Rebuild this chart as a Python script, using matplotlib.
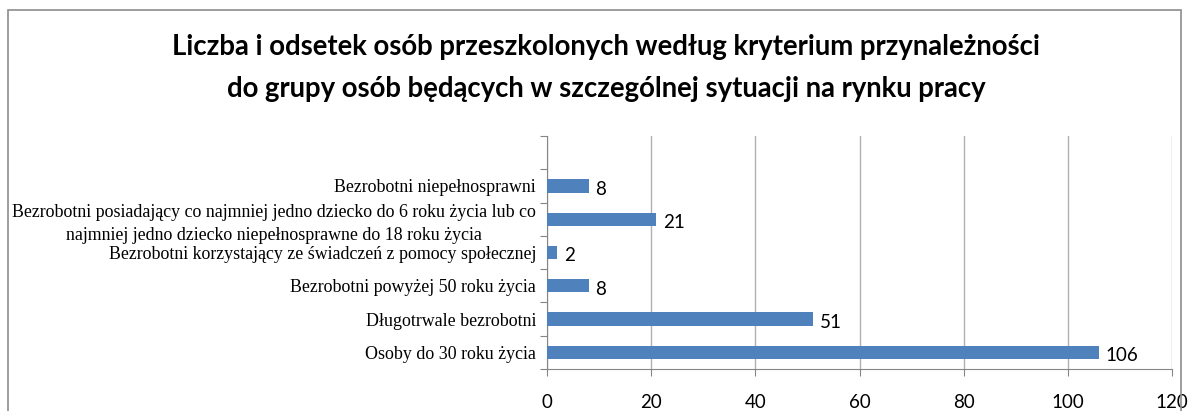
import numpy as np
import matplotlib
matplotlib.use("Agg")
import matplotlib.pyplot as plt
from matplotlib.patches import Rectangle

# data, bottom to top (top slot is empty in the source chart)
categories = [
    "Osoby do 30 roku życia",
    "Długotrwale bezrobotni",
    "Bezrobotni powyżej 50 roku życia",
    "Bezrobotni korzystający ze świadczeń z pomocy społecznej",
    "Bezrobotni posiadający co najmniej jedno dziecko do 6 roku życia lub co\n"
    "najmniej jedno dziecko niepełnosprawne do 18 roku życia",
    "Bezrobotni niepełnosprawni",
    "",
]
values = [106, 51, 8, 2, 21, 8]
x_ticks = [0, 20, 40, 60, 80, 100, 120]

title = ("Liczba i odsetek osób przeszkolonych według kryterium przynależności\n"
         "do grupy osób będących w szczególnej sytuacji na rynku pracy")

bar_color = "#4F81BD"
grid_color = "#868686"

fig = plt.figure(figsize=(11.91, 4.11), dpi=100)
ax = fig.add_axes([547 / 1191, 1 - 369 / 411, (1172 - 547) / 1191, (369 - 136) / 411])

# chart frame
fig.patches.append(Rectangle((8 / 1191, -0.1), (1181 - 8) / 1191, 1 - 10 / 411 + 0.1,
                             transform=fig.transFigure, fill=False,
                             edgecolor="#8c8c8c", linewidth=1.2))

pos = np.arange(len(values))
bars = ax.barh(pos, values, height=0.4, color=bar_color, zorder=3)
for b, v in zip(bars, values):
    ax.text(b.get_width() + 1.3, b.get_y() + b.get_height() / 2 - 0.1, str(v),
            va="center", ha="left", fontsize=13.5, family="Lato", color="black")

ax.set_xlim(0, 120)
ax.set_ylim(-0.5, len(categories) - 0.5)
ax.set_xticks(x_ticks)
ax.set_xticklabels([str(t) for t in x_ticks], family="Lato", fontsize=13.5)
ax.tick_params(axis="x", length=5, color=grid_color, pad=13)
ax.xaxis.grid(True, color="#b0b0b0", linewidth=1, zorder=0)

ax.set_yticks(np.arange(-0.5, len(categories), 1.0))
ax.set_yticklabels([])
ax.set_yticks(np.arange(len(categories)), minor=True)
ax.set_yticklabels(categories, minor=True, family="Liberation Serif", fontsize=12.9,
                   multialignment="center", linespacing=1.47)
ax.tick_params(axis="y", which="major", length=5, color=grid_color)
ax.tick_params(axis="y", which="minor", length=0, pad=8)

for s in ["top", "right"]:
    ax.spines[s].set_visible(False)
for s in ["left", "bottom"]:
    ax.spines[s].set_color(grid_color)

fig.text(0.509, 1 - 68 / 411, title, ha="center", va="center", fontsize=19.8,
         family="Lato", fontweight="bold", linespacing=1.75)

fig.savefig("out.png", dpi=100)
